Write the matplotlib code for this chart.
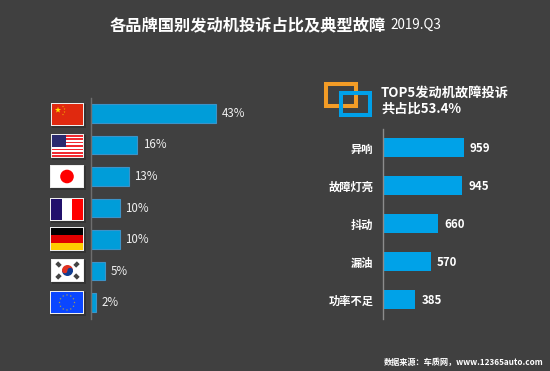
import matplotlib
matplotlib.use("Agg")
import matplotlib.pyplot as plt
import numpy as np
from matplotlib.patches import Rectangle, Circle, Polygon, Wedge

W, H = 550, 371
BG = "#404040"
BLUE_L = "#009DD9"
BLUE_R = "#00A2E8"

countries = ["cn", "us", "jp", "fr", "de", "kr", "eu"]
share = [43, 16, 13, 10, 10, 5, 2]
faults = ["异响", "故障灯亮", "抖动", "漏油", "功率不足"]
fault_counts = [959, 945, 660, 570, 385]

plt.rcParams["font.family"] = ["Noto Sans CJK SC", "DejaVu Sans"]


def px_axes(fig, x0, y0, x1, y1):
    # pixel box measured from the top left of the image
    return fig.add_axes([x0 / W, 1 - y1 / H, (x1 - x0) / W, (y1 - y0) / H])


def star(ax, cx, cy, r, color):
    ang = np.deg2rad(np.arange(10) * 36 - 90)
    rad = np.where(np.arange(10) % 2 == 0, r, r * 0.4)
    ax.add_patch(Polygon(np.c_[cx + rad * np.cos(ang), cy + rad * np.sin(ang)], color=color, lw=0))


def flag(ax, code, x, y, w, h):
    # shadow, then the white frame, then the flag itself
    ax.add_patch(Rectangle((x + 1, y + 1), w + 1, h + 1, color="#333333", lw=0))
    ax.add_patch(Rectangle((x, y), w, h, color="#EDEDED", lw=0))
    x, y, w, h = x + 1, y + 1, w - 2, h - 2
    if code == "cn":
        ax.add_patch(Rectangle((x, y), w, h, color="#E0290F", lw=0))
        star(ax, x + 6, y + 6, 3.2, "#FFDE00")
        for dx, dy in [(11, 2.5), (12.5, 5), (12.5, 8), (11, 10.5)]:
            star(ax, x + dx, y + dy, 1, "#F5B000")
    elif code == "us":
        for i in range(13):
            c = "#F02A30" if i % 2 == 0 else "white"
            ax.add_patch(Rectangle((x, y + i * h / 13), w, h / 13 + 0.2, color=c, lw=0))
        ax.add_patch(Rectangle((x, y), w * 0.46, h * 0.54, color="#2A2A6E", lw=0))
    elif code == "jp":
        ax.add_patch(Rectangle((x, y), w, h, color="white", lw=0))
        ax.add_patch(Circle((x + w / 2, y + h / 2), 6.8, color="#FF0000", lw=0))
    elif code == "fr":
        for i, c in enumerate(["#21106B", "white", "#FF0000"]):
            ax.add_patch(Rectangle((x + i * w / 3, y), w / 3, h, color=c, lw=0))
    elif code == "de":
        for i, c in enumerate(["#000000", "#E00000", "#FFCC00"]):
            ax.add_patch(Rectangle((x, y + i * h / 3), w, h / 3, color=c, lw=0))
    elif code == "kr":
        cx, cy = x + w / 2, y + h / 2
        ax.add_patch(Rectangle((x, y), w, h, color="white", lw=0))
        ax.add_patch(Wedge((cx, cy), 5.5, 180, 360, color="#E03020", lw=0))
        ax.add_patch(Wedge((cx, cy), 5.5, 0, 180, color="#103C90", lw=0))
        ax.add_patch(Circle((cx - 2.7, cy), 2.75, color="#E03020", lw=0))
        ax.add_patch(Circle((cx + 2.7, cy), 2.75, color="#103C90", lw=0))
        for sx, sy in [(-1, -1), (1, -1), (-1, 1), (1, 1)]:
            ax.add_patch(Rectangle((cx + sx * 9 - 2.5, cy + sy * 6 - 2), 5, 4,
                                   angle=45 * sx * sy, rotation_point="center",
                                   color="#444444", lw=0))
    elif code == "eu":
        ax.add_patch(Rectangle((x, y), w, h, color="#0A46FF", lw=0))
        for a in np.deg2rad(np.arange(12) * 30):
            star(ax, x + w / 2 + 7.5 * np.cos(a), y + h / 2 + 7.5 * np.sin(a), 1.1, "#B8A838")


fig = plt.figure(figsize=(W / 100, H / 100), dpi=100, facecolor=BG)

# overlay in image pixels for title, logo and flags
bg = fig.add_axes([0, 0, 1, 1])
bg.set_xlim(0, W)
bg.set_ylim(H, 0)
bg.axis("off")

bg.text(110, 25.3, "各品牌国别发动机投诉占比及典型故障", color="white", fontsize=11.7,
        fontweight="bold", va="center", ha="left")
bg.text(390, 25.3, "2019.Q3", color="white", fontsize=9.7, va="center", ha="left")

bg.add_patch(Rectangle((326, 84), 30, 22, fill=False, ec="#F39C26", lw=2.9))
bg.add_patch(Rectangle((341, 93), 29, 22, fill=False, ec="#00A0E9", lw=2.9))
bg.text(381, 92.5, "TOP5发动机故障投诉", color="white", fontsize=9.5, fontweight="bold",
        va="center", ha="left")
bg.text(381, 108.5, "共占比53.4%", color="white", fontsize=9.5, fontweight="bold",
        va="center", ha="left")
bg.text(544, 362.5, "数据来源：车质网，www.12365auto.com", color="white", fontsize=5.9,
        fontweight="bold", va="center", ha="right")

flag_boxes = {"cn": (51, 103, 33, 23), "us": (51, 134, 33, 24), "jp": (50, 165, 34, 23),
              "fr": (50, 198, 34, 23), "de": (50, 227, 34, 24), "kr": (51, 259, 33, 23),
              "eu": (50, 291, 34, 23)}
for code in countries:
    flag(bg, code, *flag_boxes[code])

# left bars
ax1 = px_axes(fig, 90.5, 97.5, 240, 318.5)
ax1.patch.set_alpha(0)
y1 = np.arange(len(share))
ax1.barh(y1, share, height=0.59, color=BLUE_L, edgecolor="#3C93C8", linewidth=0.8)
ax1.set_xlim(0, 149.5 / 2.93)
ax1.set_ylim(6.5, -0.5)
for i, v in enumerate(share):
    ax1.annotate(f"{v}%", (v, i), xytext=(4, 0), textcoords="offset points", color="#F0F0F0",
                 fontsize=8.3, va="center", ha="left")

# right bars
ax2 = px_axes(fig, 382.5, 129, 500, 318.5)
ax2.patch.set_alpha(0)
y2 = np.arange(len(faults))
ax2.barh(y2, fault_counts, height=0.5, color=BLUE_R)
ax2.set_xlim(0, 117.5 / 0.0845)
ax2.set_ylim(4.5, -0.5)
ax2.set_yticks(y2, faults)
ax2.set_xticks([])
ax2.tick_params(axis="y", length=0, pad=6.6, labelcolor="white", labelsize=8.1)
for lab in ax2.get_yticklabels():
    lab.set_fontweight("bold")
for i, v in enumerate(fault_counts):
    ax2.annotate(str(v), (v, i), xytext=(4.5, -0.7), textcoords="offset points", color="white",
                 fontsize=8.3, fontweight="bold", va="center", ha="left")

ax1.set_xticks([])
ax1.set_yticks([])
for ax in (ax1, ax2):
    for side in ("top", "right", "bottom"):
        ax.spines[side].set_visible(False)
    ax.spines["left"].set_color("#8C8C8C")
    ax.spines["left"].set_linewidth(1)
ax1.spines["left"].set_color("#6E6E6E")

fig.savefig("out.png", dpi=100, facecolor=BG)
